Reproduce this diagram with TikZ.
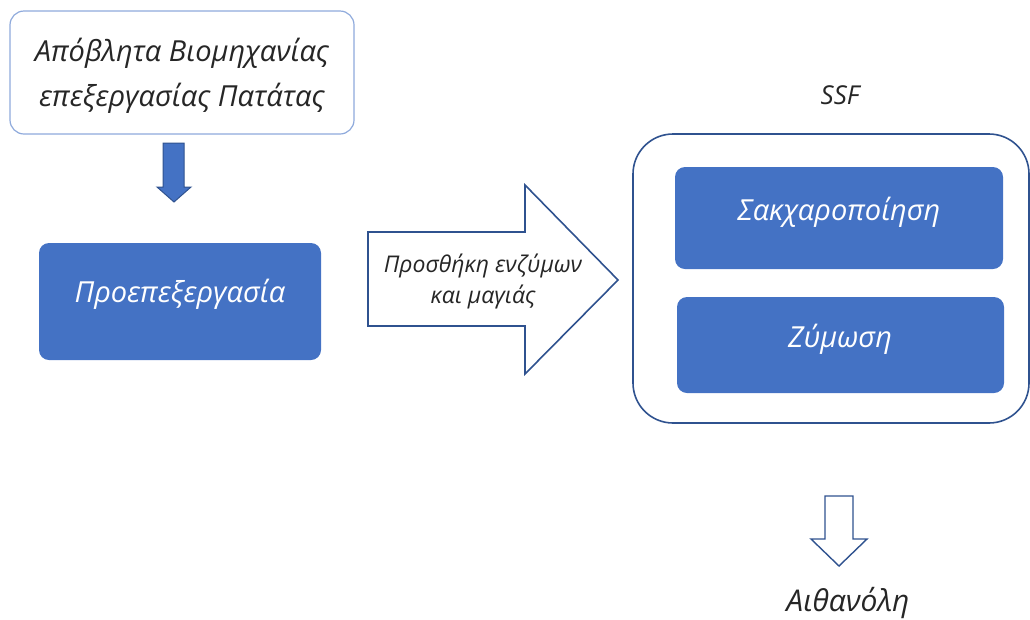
\documentclass[tikz,border=0pt]{standalone}
\usepackage{fontspec}
\setmainfont{Open Sans}
\definecolor{fillblue}{HTML}{4472C4}
\definecolor{edgeblue}{HTML}{2F528F}
\definecolor{lightedge}{HTML}{8FAADC}
\tikzset{
  outline/.style={draw=edgeblue, line width=1.6pt, line join=miter},
  lbl/.style={font=\itshape, text=black!85, align=center},
  boxtext/.style={text=white, font=\itshape\fontsize{29}{34}\selectfont},
}
\begin{document}
\begin{tikzpicture}[x=1pt, y=-1pt]
\useasboundingbox (0,0) rectangle (1030,619);

% source box
\draw[draw=lightedge, line width=1.2pt, fill=white, rounded corners=14pt] (10,11) rectangle (354,134);
\node[lbl, font=\itshape\fontsize{29}{45}\selectfont] (src) at (182,76) {Απόβλητα Βιομηχανίας\\επεξεργασίας Πατάτας};

% filled arrow down
\draw[fill=fillblue, draw=edgeblue, line width=1pt]
  (163,143) -- (184,143) -- (184,187) -- (191,187) -- (174,202) -- (157,187) -- (163,187) -- cycle;

% pretreatment
\fill[fillblue, rounded corners=10pt] (39,243) rectangle (321,360);
\node[boxtext] (pre) at (180,294) {Προεπεξεργασία};

% big outlined arrow
\draw[outline, fill=white]
  (368,232) -- (525,232) -- (525,185) -- (618,280) -- (525,374) -- (525,326) -- (368,326) -- cycle;
\node[lbl, font=\itshape\fontsize{23}{31}\selectfont] (add) at (483,281) {Προσθήκη ενζύμων\\και μαγιάς};

% SSF container
\node[lbl, font=\itshape\fontsize{26}{30}\selectfont] (ssf) at (840,95) {SSF};
\draw[outline, rounded corners=40pt] (633,134) rectangle (1029,423);

\fill[fillblue, rounded corners=10pt] (675,167) rectangle (1003,269);
\node[boxtext] (sacch) at (839,212) {Σακχαροποίηση};
\fill[fillblue, rounded corners=10pt] (677,297) rectangle (1004,393);
\node[boxtext] (ferm) at (840,339) {Ζύμωση};

% outlined arrow down
\draw[outline, line width=1.4pt, fill=white]
  (825,496) -- (853,496) -- (853,539) -- (867,539) -- (839,566) -- (811,539) -- (825,539) -- cycle;
\node[lbl, font=\itshape\fontsize{30}{34}\selectfont] (eth) at (848,603) {Αιθανόλη};
\end{tikzpicture}
\end{document}
